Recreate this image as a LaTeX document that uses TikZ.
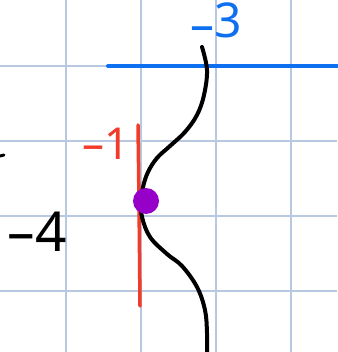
\documentclass[tikz,border=0pt]{standalone}
\usepackage{fontspec}
\setmainfont{Noto Sans}
\definecolor{gridc}{RGB}{184,200,224}
\definecolor{blueink}{RGB}{12,112,240}
\definecolor{redink}{RGB}{240,60,40}
\definecolor{purpleink}{RGB}{150,0,200}
\tikzset{
  gridline/.style={draw=gridc, line width=1.2pt},
  blueline/.style={draw=blueink, line width=4pt, line cap=round},
  redline/.style={draw=redink, line width=3.5pt, line cap=round},
  curveline/.style={draw=black, line width=4pt, line cap=round, line join=round},
  dotnode/.style={circle, fill=purpleink, inner sep=0pt, minimum size=26pt},
  lbl/.style={inner sep=0pt, anchor=center}
}
\begin{document}
\begin{tikzpicture}[x=1pt,y=-1pt]
\useasboundingbox (0,0) rectangle (337,352);
\fill[white] (0,0) rectangle (337,352);
\foreach \v in {66,141,216,291} {
  \draw[gridline] (\v,0) -- (\v,352);
  \draw[gridline] (0,\v) -- (337,\v);
}
\draw[blueline] (108,66) -- (337,66);
\draw[redline] (138,125) .. controls (139,200) .. (140,306);
\draw[curveline] plot[smooth, tension=0.6] coordinates {(202,47) (207,70) (204,95) (197,115) (185,132) (170,146) (157,158) (148,172) (143,187) (141,201) (142,217) (150,237) (167,254) (182,266) (197,287) (205,310) (207,333) (207,356)};
\node[dotnode] (p) at (146,201) {};
\node[lbl, text=blueink, font=\fontsize{48}{48}\selectfont] (t3) at (216,22) {\raisebox{-0.08em}{–}3};
\node[lbl, text=redink, font=\fontsize{44}{44}\selectfont] (t1) at (106,144) {–1};
\node[lbl, text=black, font=\fontsize{55}{55}\selectfont] (t4) at (37,232) {–4};
\draw[curveline, line width=3pt] (0,156) -- (4,155);
\end{tikzpicture}
\end{document}
